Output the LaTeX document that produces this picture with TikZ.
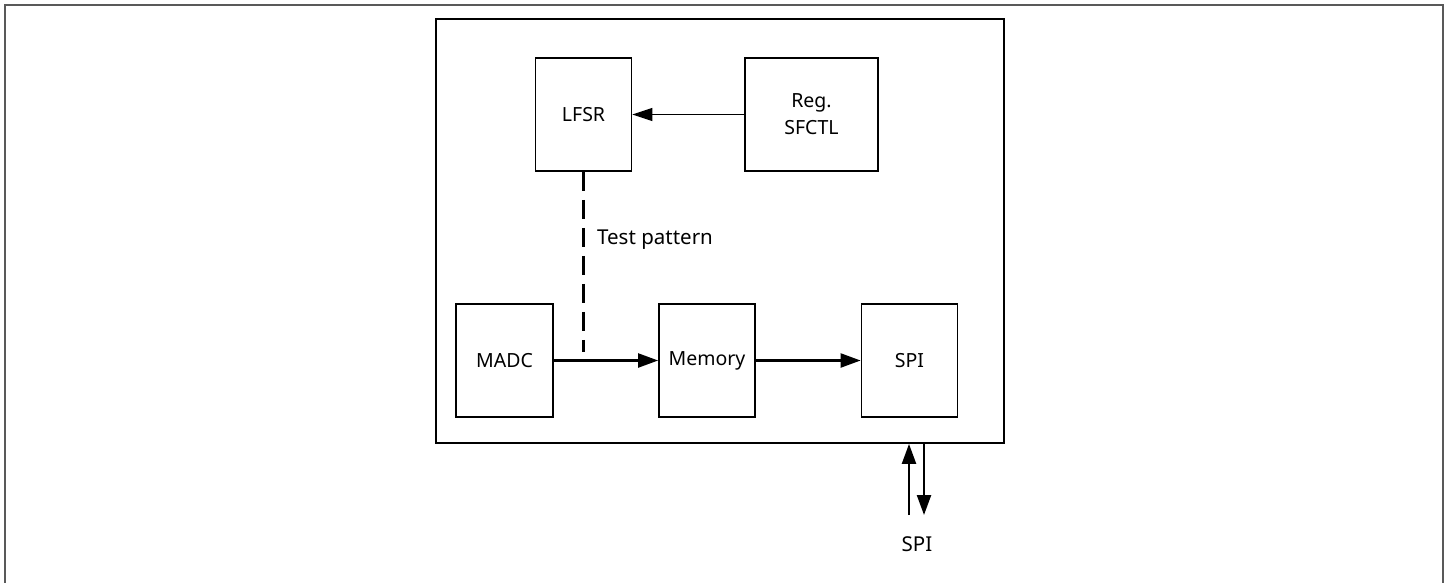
\documentclass[tikz,border=0pt]{standalone}
\usepackage{fontspec}
\setmainfont{Noto Sans}
\usetikzlibrary{arrows.meta}
\begin{document}
\begin{tikzpicture}[x=1pt,y=-1pt,
  blk/.style={draw,line width=1.8pt,minimum width=96pt,minimum height=113pt,inner sep=0pt,font=\fontsize{19.5}{27}\selectfont,align=center},
  thickarrow/.style={line width=2.3pt,-{Triangle[length=20pt,width=14pt]}},
  thinarrow/.style={line width=1.2pt,-{Triangle[length=20pt,width=13pt]}},
  lbl/.style={font=\fontsize{20.5}{24}\selectfont,inner sep=0pt}]
\useasboundingbox (0,0) rectangle (1450,583);
\draw[line width=2pt,color=black!65] (5,590) -- (5,5) -- (1443,5) -- (1443,590);
\node[draw,line width=1.8pt,minimum width=568pt,minimum height=424pt,inner sep=0pt] (chip) at (720,231) {};
\node[blk] (lfsr) at (583.5,114.5) {LFSR};
\node[blk,minimum width=133pt] (reg) at (811.5,114.5) {Reg.\\SFCTL};
\node[blk,minimum width=97pt] (madc) at (504.5,360.5) {MADC};
\node[blk] (mem) at (707,360.5) {Memory};
\node[blk] (spi) at (909.5,360.5) {SPI};
\draw[thinarrow] (reg.west) -- (lfsr.east);
\draw[thickarrow] (madc.east) -- (mem.west);
\draw[thickarrow] (mem.east) -- (spi.west);
\coordinate (dj) at (lfsr.south |- 0,352);
\draw[line width=2.3pt,dash pattern=on 19pt off 9pt] (lfsr.south) -- (dj);
\node[lbl,anchor=west] (tp) at (597,240) {Test pattern};
\coordinate (u1) at (909,515);
\coordinate (d1) at (924,515);
\draw[thickarrow] (u1) -- (u1 |- chip.south);
\draw[thickarrow] (d1 |- chip.south) -- (d1);
\node[lbl] (spil) at (917,544) {SPI};
\end{tikzpicture}
\end{document}
